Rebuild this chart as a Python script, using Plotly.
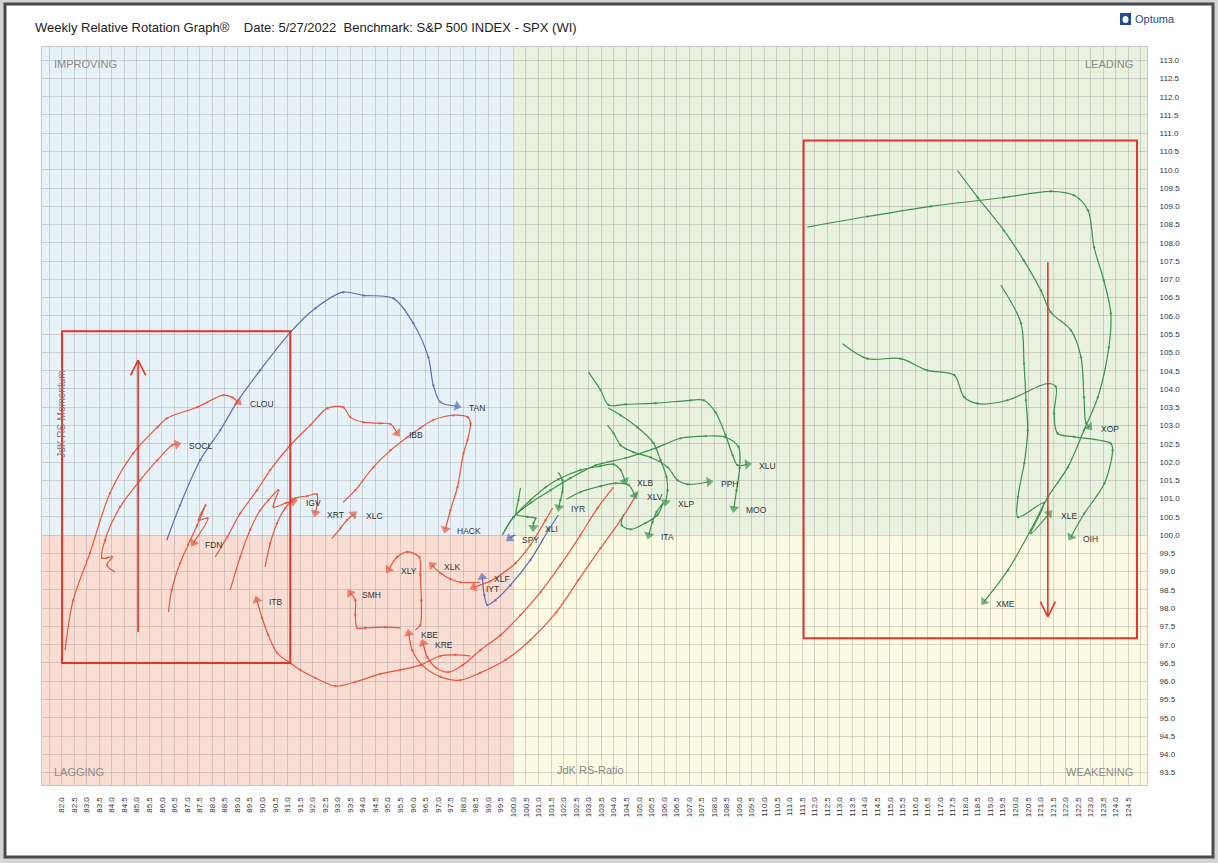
import plotly.graph_objects as go

# ---------------- data (JdK RS-Ratio, JdK RS-Momentum) ----------------
TAN_X = [86.19, 86.72, 87.52, 88.32, 88.99, 89.91, 91.11, 92.11, 93.22, 94.02, 95.22, 96.01, 96.61, 96.81, 97.09, 97.76]
TAN_Y = [99.86, 100.82, 102.05, 102.87, 103.64, 104.51, 105.55, 106.21, 106.65, 106.56, 106.48, 105.80, 104.87, 104.10, 103.64, 103.53]

CLOU_X = [82.14, 82.46, 83.13, 83.93, 84.85, 85.81, 86.20, 87.40, 88.44, 88.80, 89.04]
CLOU_Y = [96.85, 98.22, 99.51, 101.15, 102.24, 102.95, 103.20, 103.50, 103.83, 103.77, 103.64]

SOCL_X = [84.13, 83.81, 84.01, 83.61, 83.73, 84.33, 85.13, 85.81, 86.40, 86.60]
SOCL_Y = [98.99, 99.18, 99.40, 99.37, 99.86, 100.77, 101.50, 102.05, 102.46, 102.49]

FDN_X = [86.26, 86.39, 86.72, 87.04, 87.40, 87.74, 87.46, 87.82, 87.25]
FDN_Y = [97.90, 98.50, 99.23, 99.73, 100.27, 100.82, 100.41, 100.46, 99.79]

IBB_X = [88.12, 88.60, 89.12, 89.79, 90.31, 91.11, 91.91, 92.58, 93.22, 93.50, 94.02, 94.70, 95.10, 95.37]
IBB_Y = [99.40, 99.95, 100.60, 101.23, 101.78, 102.46, 103.01, 103.47, 103.50, 103.23, 103.09, 103.06, 103.04, 102.79]

HACK_X = [93.22, 93.70, 94.42, 95.10, 95.77, 96.29, 96.81, 97.61, 98.17, 98.29, 98.17, 98.01, 97.77, 97.49, 97.29]
HACK_Y = [100.90, 101.23, 101.86, 102.32, 102.68, 102.93, 103.15, 103.28, 103.23, 103.06, 102.60, 102.24, 101.31, 100.68, 100.16]

IGV_X = [88.72, 89.12, 89.51, 89.91, 90.24, 90.64, 90.44, 90.95, 91.24]
IGV_Y = [98.50, 99.41, 100.14, 100.68, 100.96, 101.23, 100.77, 100.88, 100.93]

XRT_X = [90.11, 90.31, 90.58, 90.91, 91.31, 91.79, 92.17, 92.19, 92.11]
XRT_Y = [99.13, 99.77, 100.32, 100.74, 101.01, 101.07, 101.12, 100.88, 100.61]

XLC_X = [92.77, 93.10, 93.37, 93.63]
XLC_Y = [99.91, 100.18, 100.41, 100.57]

ITB_X = [98.29, 97.69, 97.09, 96.29, 95.49, 94.70, 93.70, 92.90, 92.11, 91.51, 91.11, 90.59, 90.23, 89.99, 89.78]
ITB_Y = [96.69, 96.72, 96.69, 96.44, 96.31, 96.20, 95.98, 95.87, 96.09, 96.31, 96.50, 96.77, 97.27, 97.73, 98.22]

SMH_X = [95.49, 94.90, 94.10, 93.78, 93.70, 93.70, 93.50]
SMH_Y = [97.46, 97.48, 97.46, 97.46, 97.81, 98.22, 98.41]

XLY_X = [96.09, 96.29, 96.33, 96.29, 96.25, 95.77, 95.37, 95.03]
XLY_Y = [97.40, 97.54, 98.22, 98.91, 99.40, 99.54, 99.40, 99.06]

XLK_X = [98.68, 97.89, 97.49, 97.09, 96.76]
XLK_Y = [98.71, 98.71, 98.80, 98.96, 99.18]

IYT_X = [101.56, 101.28, 100.68, 100.08, 99.48, 99.08, 98.42]
IYT_Y = [100.74, 100.41, 99.73, 99.23, 98.91, 98.74, 98.57]

XLF_X = [101.79, 101.40, 100.68, 99.88, 99.28, 98.96, 98.84, 98.76]
XLF_Y = [100.55, 100.14, 99.32, 98.63, 98.22, 98.09, 98.36, 98.85]

SPY_X = [100.08, 99.96, 99.85]
SPY_Y = [100.00, 99.97, 99.91]

KBE_X = [104.94, 104.27, 103.47, 102.59, 101.71, 100.68, 99.68, 98.68, 97.89, 97.09, 96.37, 95.97, 95.83]
KBE_Y = [101.15, 100.41, 99.64, 98.77, 97.89, 97.13, 96.58, 96.23, 96.03, 96.12, 96.44, 96.85, 97.31]

KRE_X = [103.99, 103.35, 102.67, 101.87, 101.08, 100.28, 99.48, 98.68, 97.97, 97.41, 96.93, 96.57, 96.40]
KRE_Y = [101.31, 100.74, 100.00, 99.18, 98.44, 97.81, 97.26, 96.85, 96.44, 96.25, 96.36, 96.66, 97.04]

XLU_X = [102.99, 103.47, 103.79, 104.47, 105.66, 107.06, 107.58, 108.05, 108.45, 108.73, 108.93, 109.32]
XLU_Y = [104.46, 103.97, 103.56, 103.58, 103.61, 103.69, 103.69, 103.36, 102.74, 102.19, 101.91, 101.94]

MOO_X = [99.56, 100.00, 100.68, 101.48, 102.27, 103.27, 104.47, 105.66, 106.66, 107.66, 108.45, 108.97, 109.01, 108.89, 108.78]
MOO_Y = [100.00, 100.49, 100.88, 101.23, 101.56, 101.91, 102.11, 102.38, 102.65, 102.71, 102.68, 102.41, 101.83, 101.23, 100.73]

PPH_X = [103.74, 103.99, 104.27, 104.78, 105.46, 106.14, 106.54, 106.94, 107.79]
PPH_Y = [103.01, 102.79, 102.46, 102.27, 102.13, 101.86, 101.50, 101.39, 101.46]

XLP_X = [103.79, 104.27, 104.94, 105.58, 105.86, 106.10, 106.14, 106.06]
XLP_Y = [103.47, 103.28, 102.95, 102.52, 102.05, 101.59, 101.23, 100.90]

XLB_X = [99.64, 100.00, 100.68, 101.28, 101.79, 102.67, 103.47, 103.99, 104.27, 104.44]
XLB_Y = [100.11, 100.49, 100.96, 101.31, 101.53, 101.78, 101.89, 101.94, 101.78, 101.48]

IYR_X = [101.79, 101.95, 101.95, 101.87, 101.81]
IYR_Y = [101.72, 101.50, 101.18, 100.96, 100.76]

XLV_X = [102.11, 102.67, 103.47, 104.07, 104.59, 104.83]
XLV_Y = [100.98, 101.18, 101.34, 101.42, 101.37, 101.09]

XLI_X = [100.28, 100.20, 100.12, 100.56, 100.88, 100.80, 100.79]
XLI_Y = [101.29, 100.96, 100.57, 100.50, 100.46, 100.33, 100.21]

ITA_X = [104.39, 104.31, 104.67, 105.26, 105.74, 105.94, 105.70, 105.54, 105.39]
ITA_Y = [100.57, 100.27, 100.16, 100.33, 100.55, 100.85, 100.63, 100.36, 100.00]

XME_X = [111.71, 114.10, 116.63, 119.54, 121.41, 122.33, 122.89, 123.13, 123.52, 123.80, 123.72, 123.28, 122.73, 122.09, 121.29, 120.61, 119.70, 118.75]
XME_Y = [108.43, 108.72, 109.00, 109.24, 109.41, 109.30, 108.89, 107.88, 106.97, 106.07, 105.14, 103.77, 102.87, 101.86, 101.04, 100.14, 99.04, 98.18]

XOP_X = [117.69, 118.50, 119.54, 120.33, 121.01, 121.41, 122.21, 122.61, 122.73, 122.81, 122.94]
XOP_Y = [109.98, 109.24, 108.34, 107.52, 106.70, 106.10, 105.61, 104.87, 103.77, 103.06, 102.96]

OIH_X = [113.11, 114.10, 115.43, 116.49, 117.56, 117.95, 118.49, 119.68, 121.28, 121.61, 121.54, 121.68, 122.34, 123.80, 123.87, 123.54, 122.74, 122.21]
OIH_Y = [105.24, 104.83, 104.83, 104.51, 104.38, 103.78, 103.60, 103.69, 104.15, 104.06, 103.33, 102.78, 102.69, 102.51, 102.32, 101.41, 100.59, 99.95]

XLE_X = [119.42, 120.22, 120.34, 120.42, 120.49, 120.35, 120.10, 120.10, 121.13, 120.61, 121.34]
XLE_Y = [106.84, 105.80, 104.70, 103.69, 102.87, 101.97, 101.04, 100.49, 100.88, 100.05, 100.59]

# highlight boxes [x0, x1, y0, y1] and vertical arrows [x, y_start, y_end]
BOX_LEFT = [82.02, 91.11, 96.50, 105.58]
BOX_RIGHT = [111.56, 124.84, 97.18, 110.80]
ARROW_LEFT = [85.05, 97.35, 104.79]
ARROW_RIGHT = [121.29, 107.47, 97.76]

X_TICKS = [82.0 + 0.5 * i for i in range(86)]
Y_TICKS = [93.5 + 0.5 * i for i in range(40)]

RED = "#E8553F"
GREEN = "#3E9150"
BLUE = "#5B6DB5"

TAILS = [
    ("TAN", TAN_X, TAN_Y, BLUE), ("CLOU", CLOU_X, CLOU_Y, RED), ("SOCL", SOCL_X, SOCL_Y, RED),
    ("FDN", FDN_X, FDN_Y, RED), ("IBB", IBB_X, IBB_Y, RED), ("HACK", HACK_X, HACK_Y, RED),
    ("IGV", IGV_X, IGV_Y, RED), ("XRT", XRT_X, XRT_Y, RED), ("XLC", XLC_X, XLC_Y, RED),
    ("ITB", ITB_X, ITB_Y, RED), ("SMH", SMH_X, SMH_Y, RED), ("XLY", XLY_X, XLY_Y, RED),
    ("XLK", XLK_X, XLK_Y, RED), ("IYT", IYT_X, IYT_Y, RED), ("XLF", XLF_X, XLF_Y, BLUE),
    ("SPY", SPY_X, SPY_Y, BLUE), ("KBE", KBE_X, KBE_Y, RED), ("KRE", KRE_X, KRE_Y, RED),
    ("XLU", XLU_X, XLU_Y, GREEN), ("MOO", MOO_X, MOO_Y, GREEN), ("PPH", PPH_X, PPH_Y, GREEN),
    ("XLP", XLP_X, XLP_Y, GREEN), ("XLB", XLB_X, XLB_Y, GREEN), ("IYR", IYR_X, IYR_Y, GREEN),
    ("XLV", XLV_X, XLV_Y, GREEN), ("XLI", XLI_X, XLI_Y, GREEN), ("ITA", ITA_X, ITA_Y, GREEN),
    ("XME", XME_X, XME_Y, GREEN), ("XOP", XOP_X, XOP_Y, GREEN), ("OIH", OIH_X, OIH_Y, GREEN),
    ("XLE", XLE_X, XLE_Y, GREEN),
]

X_RANGE = [81.22, 125.24]
Y_RANGE = [93.16, 113.36]

fig = go.Figure()

# ---------------- background: frame and quadrants ----------------
L, T, PW, PH = 42, 47, 1105, 738


def px2paper_x(px):
    return (px - L) / PW


def py2paper_y(py):
    return (T + PH - py) / PH


shapes = []
shapes.append(dict(type="rect", xref="paper", yref="paper",
                   x0=px2paper_x(5), x1=px2paper_x(1213), y0=py2paper_y(857), y1=py2paper_y(4),
                   fillcolor="white", line=dict(color="#4a4a4a", width=3), layer="below"))
quads = [
    (X_RANGE[0], 100, 100, Y_RANGE[1], "#E6F2F8"),
    (100, X_RANGE[1], 100, Y_RANGE[1], "#E8F2DE"),
    (X_RANGE[0], 100, Y_RANGE[0], 100, "#FADDD2"),
    (100, X_RANGE[1], Y_RANGE[0], 100, "#FCFAE3"),
]
for x0, x1, y0, y1, c in quads:
    shapes.append(dict(type="rect", xref="x", yref="y", x0=x0, x1=x1, y0=y0, y1=y1,
                       fillcolor=c, line=dict(width=0), layer="below"))

# highlight boxes
for b in (BOX_LEFT, BOX_RIGHT):
    shapes.append(dict(type="rect", xref="x", yref="y", x0=b[0], x1=b[1], y0=b[2], y1=b[3],
                       line=dict(color="#E0352B", width=2), fillcolor="rgba(0,0,0,0)", layer="above"))

# red vertical arrows with open chevron heads
for a in (ARROW_LEFT, ARROW_RIGHT):
    x, ys, ye = a
    shapes.append(dict(type="line", xref="x", yref="y", x0=x, x1=x, y0=ys, y1=ye,
                       line=dict(color="#E0352B", width=1.6), layer="above"))
    d = 0.42 if ye > ys else -0.42
    for sx in (-0.3, 0.3):
        shapes.append(dict(type="line", xref="x", yref="y", x0=x, x1=x + sx, y0=ye, y1=ye - d,
                           line=dict(color="#E0352B", width=1.6), layer="above"))

# ---------------- tails ----------------
annotations = []
for name, xs, ys, col in TAILS:
    n = len(xs)
    fig.add_trace(go.Scatter(
        x=xs, y=ys, mode="lines+markers", name=name, showlegend=False,
        line=dict(color=col, width=1.2, shape="spline", smoothing=0.9),
        marker=dict(color=col, size=[2.5] * (n - 1) + [9],
                    symbol=["circle"] * (n - 1) + ["triangle-up"],
                    angleref="previous", angle=0, line=dict(width=0)),
        hoverinfo="name",
    ))
    annotations.append(dict(x=xs[-1], y=ys[-1], xref="x", yref="y", text=name, showarrow=False,
                            xanchor="left", yanchor="middle", xshift=10, yshift=-2,
                            font=dict(family="Liberation Sans, Arial", size=8.5, color="#333")))

# quadrant and axis labels
qfont = dict(family="Liberation Sans, Arial", size=11, color="#8a8a8a")
for txt, x, y, xa in [("IMPROVING", 0.009, 0.977, "left"), ("LEADING", 0.989, 0.977, "right"),
                      ("LAGGING", 0.009, 0.018, "left"), ("WEAKENING", 0.989, 0.018, "right")]:
    annotations.append(dict(x=x, y=y, xref="x domain", yref="y domain", text=txt, showarrow=False,
                            xanchor=xa, yanchor="middle", font=qfont))
annotations.append(dict(x=0.464, y=0.021, xref="x domain", yref="y domain", text="JdK RS-Ratio",
                        showarrow=False, xanchor="left", yanchor="middle", font=qfont))
annotations.append(dict(x=0.018, y=0.503, xref="x domain", yref="y domain", text="JdK RS-Momentum",
                        showarrow=False, textangle=-90, xanchor="center", yanchor="middle",
                        font=dict(family="Liberation Sans, Arial", size=10, color="#8a7a7a")))

# title and logo
annotations.append(dict(x=px2paper_x(33), y=py2paper_y(27), xref="paper", yref="paper",
                        text="Weekly Relative Rotation Graph\u00ae    Date: 5/27/2022  Benchmark: S&P 500 INDEX - SPX (WI)",
                        showarrow=False, xanchor="left", yanchor="middle",
                        font=dict(family="Liberation Sans, Arial", size=13, color="#222")))
annotations.append(dict(x=px2paper_x(1133), y=py2paper_y(19), xref="paper", yref="paper",
                        text="Optuma", showarrow=False, xanchor="left", yanchor="middle",
                        font=dict(family="Liberation Sans, Arial", size=11, color="#1E4C96")))
shapes.append(dict(type="rect", xref="paper", yref="paper",
                   x0=px2paper_x(1120), x1=px2paper_x(1131), y0=py2paper_y(25), y1=py2paper_y(13),
                   fillcolor="#1E4C96", line=dict(width=0)))
shapes.append(dict(type="circle", xref="paper", yref="paper",
                   x0=px2paper_x(1122.5), x1=px2paper_x(1128.5), y0=py2paper_y(23), y1=py2paper_y(16),
                   fillcolor="white", line=dict(width=0)))

tickfont = dict(family="Liberation Sans, Arial", size=8, color="#333")
fig.update_layout(
    width=1218, height=863,
    margin=dict(l=L, r=1218 - L - PW, t=T, b=863 - T - PH),
    paper_bgcolor="#d4d4d4", plot_bgcolor="rgba(0,0,0,0)",
    shapes=shapes, annotations=annotations, showlegend=False,
    xaxis=dict(range=X_RANGE, tickvals=X_TICKS, ticktext=["%.1f" % v for v in X_TICKS],
               tickangle=-90, tickfont=tickfont, showgrid=False, zeroline=False,
               showline=True, linecolor="#c8c8c8", mirror=True, ticks="", ticklabelstandoff=8,
               minor=dict(dtick=0.5, tick0=0, showgrid=True, gridcolor="rgba(140,140,140,0.33)", gridwidth=1)),
    yaxis=dict(range=Y_RANGE, side="right", tickvals=Y_TICKS, ticktext=["%.1f" % v for v in Y_TICKS],
               tickfont=tickfont, showgrid=False, zeroline=False,
               showline=True, linecolor="#c8c8c8", mirror=True, ticks="", ticklabelstandoff=10,
               minor=dict(dtick=0.5, tick0=0, showgrid=True, gridcolor="rgba(140,140,140,0.33)", gridwidth=1)),
)

fig.write_html("out.html", config={"displayModeBar": False},
               post_script="document.body.style.margin='0px';document.body.style.overflow='hidden';")
